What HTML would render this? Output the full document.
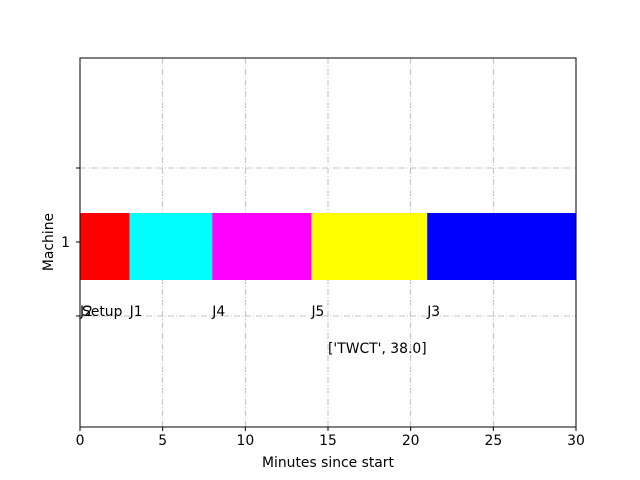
<!DOCTYPE html>
<html><head><meta charset="utf-8"><style>
body{margin:0;background:#fff}
svg{display:block;font-family:"DejaVu Sans","Liberation Sans",sans-serif}
</style></head><body>
<svg id="chart" width="640" height="480" xmlns="http://www.w3.org/2000/svg"></svg>
<script>
const jobs=["J2","J1","J4","J5","J3"];
const starts=[0,3,8,14,21];
const durations=[3,5,6,7,9];
const colors=["#ff0000","#00ffff","#ff00ff","#ffff00","#0000ff"];
const xTicks=[0,5,10,15,20,25,30];
const annotation="['TWCT', 38.0]";
const annotationX=15;

const svg=document.getElementById('chart');
const NS="http://www.w3.org/2000/svg";
const L=80,R=576,T=58,B=427;
const FS=13.9;
const xs=v=>L+(v-0)/(30-0)*(R-L);
function el(tag,attrs,parent){const e=document.createElementNS(NS,tag);for(const k in attrs)e.setAttribute(k,attrs[k]);(parent||svg).appendChild(e);return e;}
xTicks.forEach((t,i)=>{if(t===0||t===30)return;const g=el('line',{x1:xs(t),x2:xs(t),y1:T,y2:B,stroke:'#b0b0b0','stroke-width':0.8,'stroke-dasharray':'6,2,1,2'});

});
[168,242,316].forEach(y=>{const g=el('line',{x1:L,x2:R,y1:y,y2:y,stroke:'#b0b0b0','stroke-width':0.8,'stroke-dasharray':'6,2,1,2'});

});
jobs.forEach((j,i)=>{const x0=xs(starts[i]),x1=Math.min(xs(starts[i]+durations[i]),R);
const b=el('rect',{x:x0,y:213,width:x1-x0,height:67,fill:colors[i]});


const t=el('text',{x:x0,y:316,'font-size':FS,fill:'#000'});t.textContent=j;

});
const s=el('text',{x:xs(0)+2,y:316,'font-size':FS});s.textContent='Setup';


const a=el('text',{x:xs(annotationX),y:353,'font-size':FS});a.textContent=annotation;


const f=el('rect',{x:L,y:T,width:R-L,height:B-T,fill:'none',stroke:'#000','stroke-width':1});


xTicks.forEach(t=>{el('line',{x1:xs(t),x2:xs(t),y1:B,y2:B+4,stroke:'#000'});
const tl=el('text',{x:xs(t),y:B+18,'font-size':FS,'text-anchor':'middle'});tl.textContent=t;

});
[168,242,316].forEach(y=>el('line',{x1:L-4,x2:L,y1:y,y2:y,stroke:'#000'}));
const yl=el('text',{x:L-10,y:247,'font-size':FS,'text-anchor':'end'});yl.textContent='1';


const xt=el('text',{x:(L+R)/2,y:467,'font-size':FS,'text-anchor':'middle'});xt.textContent='Minutes since start';


const yt=el('text',{x:53,y:242,'font-size':FS,'text-anchor':'middle',transform:'rotate(-90 53 242)'});yt.textContent='Machine';


</script>
</body></html>
